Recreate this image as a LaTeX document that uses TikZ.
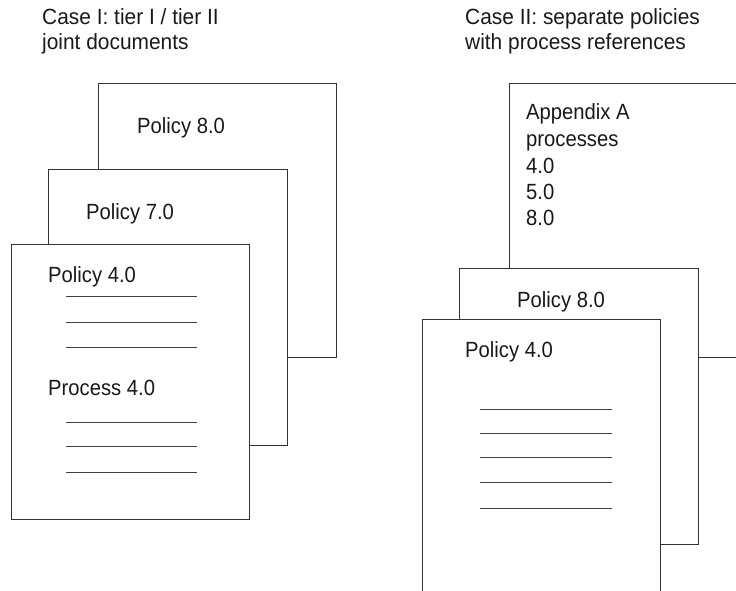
\documentclass[tikz,border=0pt]{standalone}
\usepackage{fontspec}
\setmainfont{Liberation Sans}[FakeStretch=0.92]
\newfontfamily\headfont{Liberation Sans}[FakeStretch=0.95]
\begin{document}
\begin{tikzpicture}[x=1pt,y=-1pt,
  docpage/.style={draw=black!80, line width=1.3pt, fill=white, rectangle,
    anchor=north west, inner sep=0pt},
  label/.style={anchor=base west, inner sep=0pt, text=black!90,
    font=\fontsize{22}{25}\selectfont},
  heading/.style={label, align=left, font=\headfont\fontsize{22}{25}\selectfont},
  rule/.style={draw=black!75, line width=0.9pt}]
\useasboundingbox (0,0) rectangle (736,591);
\clip (0,0) rectangle (736,591);

% ---- Case I: joint documents ----
% base anchor of a two-line node sits on its last line
\node[heading] (t1) at (42,49.3)
  {Case I: tier I / tier II\\joint documents};

\node[docpage, minimum width=238pt, minimum height=274pt] (a8) at (98,83) {};
\node[label] (a8t) at (137,133.3) {Policy 8.0};

\node[docpage, minimum width=239pt, minimum height=276pt] (a7) at (48,169) {};
\node[label] (a7t) at (86,219) {Policy 7.0};

\node[docpage, minimum width=238pt, minimum height=275pt] (a4) at (11,244) {};
\node[label] (a4t) at (48,282.7) {Policy 4.0};
\node[label] (a4p) at (48,395) {Process 4.0};

\foreach \yy/\nm in {296/l1,322/l2,347/l3,422/l4,446/l5,472/l6}{
  \coordinate (\nm a) at (66,\yy);
  \coordinate (\nm b) at (197,\yy);
  \draw[rule] (\nm a) -- (\nm b);
}

% ---- Case II: separate policies ----
\node[heading] (t2) at (465,49.3)
  {Case II: separate policies\\with process references};

\node[docpage, minimum width=250pt, minimum height=274pt] (bA) at (509,83) {};
\node[label] (bAt1) at (526,120) {Appendix A};
\node[label] (bAt2) at (526,146.5) {processes};
\node[label] (bAt3) at (526,173.2) {4.0};
\node[label] (bAt4) at (526,199.7) {5.0};
\node[label] (bAt5) at (526,225.8) {8.0};

\node[docpage, minimum width=239pt, minimum height=276pt] (b8) at (459,268) {};
\node[label] (b8t) at (517,307.3) {Policy 8.0};

\node[docpage, minimum width=238pt, minimum height=290pt] (b4) at (422,319) {};
\node[label] (b4t) at (465,357.7) {Policy 4.0};

\foreach \yy/\nm in {409/r1,433/r2,457/r3,482/r4,508/r5}{
  \coordinate (\nm a) at (480,\yy);
  \coordinate (\nm b) at (612,\yy);
  \draw[rule] (\nm a) -- (\nm b);
}
\end{tikzpicture}
\end{document}
